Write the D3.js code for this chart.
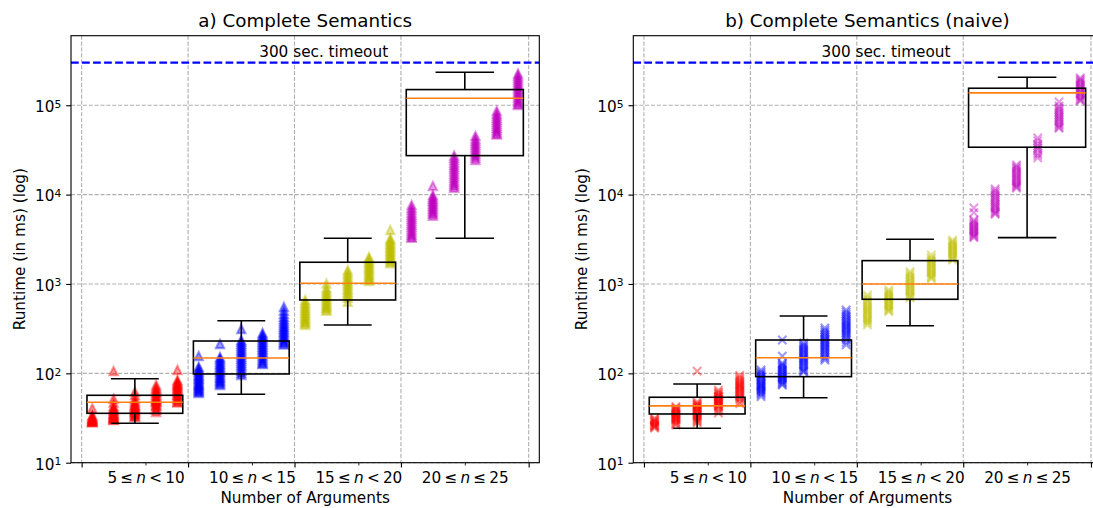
<!DOCTYPE html>
<html>
<head>
<meta charset="utf-8">
<script src="https://cdn.jsdelivr.net/npm/d3@7"></script>
<style>
  html, body { margin: 0; padding: 0; background: #fff; }
  svg { display: block; font-family: "DejaVu Sans", sans-serif; }
</style>
</head>
<body>
<svg id="chart" width="1093" height="508"></svg>
<script>
// ---- data -------------------------------------------------------------
// number of arguments, one scatter column each
const argCounts = [5, 6, 7, 8, 9, 10, 11, 12, 13, 14, 15, 16, 17, 18, 19, 20, 21, 22, 23, 24, 25];

// runtimes in ms for the complete semantics, one list per argument count
const runtimeComplete = [
  [40.5, 34, 33, 32, 31.5, 31, 30.5, 30, 29.5, 29, 28.8, 28.5, 28.3],
  [106, 52, 47, 43, 41, 40, 39, 38, 37, 36, 35, 34.5, 34, 33, 32.5, 32, 31.5, 31, 30.5, 30],
  [62, 57, 52, 49, 47, 45, 44, 43, 42, 41, 40, 39, 38, 37.5, 37, 36, 35, 34, 33, 32.5],
  [74, 70, 67, 64, 62, 60, 58, 56, 54, 52, 51, 50, 49, 48, 47, 45, 44, 43, 41, 39, 37],
  [109, 84, 81, 78, 76, 74, 72, 70, 68, 66, 64, 62, 60, 58, 57, 55, 53, 52, 50, 48, 47],
  [156, 118, 113, 108, 104, 100, 96, 93, 90, 87, 84, 81, 78, 76, 74, 72, 70, 68, 66, 64, 62, 60],
  [213, 152, 146, 140, 134, 128, 123, 118, 113, 108, 104, 100, 96, 92, 89, 86, 83, 80, 77, 74],
  [313, 236, 225, 214, 204, 194, 185, 176, 168, 160, 152, 145, 138, 131, 125, 119, 113, 107, 101, 96],
  [282, 270, 258, 247, 236, 226, 216, 207, 198, 190, 182, 174, 166, 158, 150, 143, 136, 130, 127],
  [553, 500, 460, 430, 405, 385, 365, 348, 332, 318, 305, 292, 280, 268, 257, 246, 236, 226, 217, 210],
  [662, 625, 595, 565, 540, 515, 495, 475, 455, 437, 420, 405, 390, 375, 362, 348],
  [1014, 900, 850, 800, 760, 725, 690, 660, 630, 605, 580, 560, 540, 520, 500],
  [1436, 1350, 1280, 1210, 1150, 1090, 1040, 990, 945, 900, 860, 820, 780, 750, 700, 630],
  [2005, 1920, 1840, 1760, 1690, 1620, 1550, 1490, 1430, 1370, 1310, 1260, 1210, 1160, 1120, 1080],
  [4020, 3230, 3100, 2980, 2860, 2750, 2640, 2540, 2440, 2350, 2260, 2170, 2090, 2010, 1930, 1850, 1770, 1700],
  [7650, 7100, 6700, 6300, 5950, 5650, 5350, 5080, 4820, 4580, 4350, 4130, 3920, 3720, 3540, 3380, 3280],
  [12500, 9860, 9400, 9000, 8600, 8250, 7900, 7550, 7250, 6950, 6650, 6350, 6100, 5800],
  [27400, 25800, 24300, 22900, 21600, 20400, 19300, 18200, 17200, 16300, 15400, 14600, 13800, 13100, 12500, 11900],
  [45400, 42500, 40000, 37800, 35800, 33900, 32100, 30400, 28800, 27300, 25900, 24400],
  [86300, 81000, 76500, 72500, 68800, 65300, 62000, 58900, 56000, 53300, 50700, 48300, 47100],
  [227000, 215000, 204000, 194000, 184000, 175000, 166000, 158000, 150000, 142000, 135000, 128000, 121000, 115000, 109000, 104000, 100700]
];

// runtimes in ms for the naive complete semantics
const runtimeNaive = [
  [31.5, 30.5, 30, 29, 28.5, 28, 27, 26.5, 26, 25.5, 25, 24.4],
  [42.5, 41, 40, 39, 38, 37, 36, 35, 34.5, 34, 33, 32.5, 32, 31, 30.5, 30, 29, 28, 27, 26.4],
  [106, 48, 46, 45, 44, 43, 42, 41, 40, 39, 38, 37, 36, 35, 34, 33, 32, 31, 30, 29, 28],
  [65, 62, 60, 58, 56, 55, 54, 52, 51, 50, 49, 48, 47, 46, 45, 44, 43, 42, 40, 38, 36],
  [95, 90, 86, 83, 80, 77, 75, 73, 71, 69, 67, 65, 63, 61, 59, 57, 55, 53, 51, 48, 46],
  [109, 104, 100, 96, 93, 90, 87, 84, 81, 78, 76, 74, 72, 70, 68, 66, 64, 62, 60, 58, 55],
  [236, 156, 130, 126, 122, 118, 114, 110, 107, 104, 100, 97, 94, 91, 89, 86, 84, 81, 79, 76, 74],
  [219, 210, 202, 195, 188, 181, 175, 168, 162, 156, 150, 145, 140, 135, 130, 125, 120, 115, 110, 106, 103.5],
  [322, 305, 290, 278, 266, 255, 245, 236, 227, 219, 211, 203, 196, 189, 182, 175, 168, 161, 154, 147, 141],
  [512, 485, 460, 440, 420, 400, 385, 370, 355, 342, 330, 318, 306, 295, 284, 273, 262, 250, 238, 222, 208],
  [753, 710, 670, 640, 610, 580, 555, 530, 510, 490, 470, 450, 430, 410, 395, 380, 365, 347],
  [857, 820, 790, 760, 730, 700, 675, 650, 625, 600, 580, 560, 540, 520, 505, 490],
  [1375, 1310, 1250, 1190, 1140, 1090, 1045, 1000, 960, 920, 885, 850, 815, 780, 750, 720, 700],
  [2112, 1980, 1900, 1820, 1750, 1680, 1610, 1550, 1490, 1430, 1370, 1320, 1270, 1220, 1180, 1140],
  [3100, 2980, 2870, 2770, 2670, 2570, 2480, 2390, 2300, 2220, 2140, 2060, 1990, 1920, 1850],
  [7090, 6300, 5200, 5000, 4800, 4620, 4450, 4300, 4150, 4000, 3870, 3740, 3620, 3500, 3400, 3300],
  [11560, 11000, 10500, 10000, 9500, 9100, 8700, 8300, 7900, 7600, 7300, 7000, 6700, 6400, 6200, 6030],
  [21500, 20600, 19800, 19000, 18200, 17400, 16700, 16000, 15400, 14800, 14200, 13600, 13100, 12600, 12200, 11860],
  [43000, 40000, 37000, 35000, 33000, 31500, 29000, 27500, 25700],
  [108900, 98000, 93000, 89000, 85000, 81000, 77000, 74000, 71000, 68000, 65000, 62000, 59500, 57000, 55300],
  [202000, 195000, 188000, 181000, 174000, 167000, 161000, 155000, 149000, 143000, 138000, 133000, 128000, 123000, 118000, 114000, 111700]
];

// argument-count groups: tick labels (text, italic?) and box positions
const groupLabels = [
  [["5", false], ["\u2264", false], ["n", true], ["<", false], ["10", false]],
  [["10", false], ["\u2264", false], ["n", true], ["<", false], ["15", false]],
  [["15", false], ["\u2264", false], ["n", true], ["<", false], ["20", false]],
  [["20", false], ["\u2264", false], ["n", true], ["\u2264", false], ["25", false]]
];
const groupLabelTicks = [7.5, 12.5, 17.5, 22.5];
const groupBoundaries = [4.5, 9.5, 14.5, 19.5, 25.5];
const groupColors = ["#ff0000", "#0000ff", "#bfbf00", "#bf00bf"];
const boxPositions = [7, 12, 17, 22.5];
const boxWidths = [4.5, 4.5, 4.5, 5.5];

// box statistics per group: whisker low, Q1, median, Q3, whisker high
const completeLow    = [27.6, 58.4, 348, 3245];
const completeQ1     = [35.7, 98.4, 662, 27300];
const completeMedian = [47.4, 148.6, 1018, 119700];
const completeQ3     = [56.8, 230, 1750, 149700];
const completeHigh   = [87.1, 388, 3245, 233900];

const naiveLow    = [24.3, 53.3, 341, 3297];
const naiveQ1     = [35.1, 91.8, 674, 33900];
const naiveMedian = [43.2, 149.6, 1000, 137500];
const naiveQ3     = [54, 236, 1824, 155000];
const naiveHigh   = [76, 438, 3162, 205500];

const yTickValues = [10, 100, 1000, 10000, 100000];
const timeoutMs = 300000;

// ---- layout -----------------------------------------------------------
const svg = d3.select("#chart");
svg.append("rect").attr("width", 1093).attr("height", 508).attr("fill", "#fff");

const PT = 100 / 72;               // px per point
const FS = 11 * PT;                // base font size
const panelTop = 35.7, panelH = 427, panelW = 468.3;
const groupOf = n => n < 10 ? 0 : n < 15 ? 1 : n < 20 ? 2 : 3;

function drawPanel(cfg) {
  const left = cfg.left;
  const x = d3.scaleLinear().domain([4, 26]).range([left, left + panelW]);
  const y = d3.scaleLog().domain([10, 6e5]).range([panelTop + panelH, panelTop]);
  const bottom = panelTop + panelH;
  const g = svg.append("g");

  // grid
  const grid = g.append("g").attr("stroke", "#b0b0b0").attr("stroke-width", 0.8 * PT)
    .attr("stroke-dasharray", `${3.7 * 0.8 * PT},${1.6 * 0.8 * PT}`);
  grid.selectAll("line.h").data(yTickValues).join("line").attr("class", "h")
    .attr("x1", left).attr("x2", left + panelW)
    .attr("y1", d => y(d)).attr("y2", d => y(d));
  grid.selectAll("line.v").data(groupBoundaries).join("line").attr("class", "v")
    .attr("x1", d => x(d)).attr("x2", d => x(d))
    .attr("y1", panelTop).attr("y2", bottom);

  // scatter points
  const h = 3 * PT;
  const tri = `M0,${-h}L${h},${h}L${-h},${h}Z`;
  const cross = `M${-h},${-h}L${h},${h}M${-h},${h}L${h},${-h}`;
  const pts = [];
  argCounts.forEach((n, i) => cfg.series[i].forEach(v => pts.push({ n, v })));
  g.append("g").selectAll("path").data(pts).join("path")
    .attr("transform", d => `translate(${x(d.n)},${y(d.v)})`)
    .attr("d", cfg.marker === "tri" ? tri : cross)
    .attr("fill", d => cfg.marker === "tri" ? groupColors[groupOf(d.n)] : "none")
    .attr("fill-opacity", 0.4)
    .attr("stroke", d => groupColors[groupOf(d.n)])
    .attr("stroke-opacity", 0.4)
    .attr("stroke-width", 1.5 * PT);

  // box plots
  const bx = g.append("g");
  boxPositions.forEach((p, i) => {
    const w = boxWidths[i];
    const bg = bx.append("g").attr("stroke", "#000").attr("stroke-width", 1.6).attr("fill", "none");
    bg.append("line").attr("x1", x(p)).attr("x2", x(p)).attr("y1", y(cfg.q1[i])).attr("y2", y(cfg.low[i]));
    bg.append("line").attr("x1", x(p)).attr("x2", x(p)).attr("y1", y(cfg.q3[i])).attr("y2", y(cfg.high[i]));
    bg.append("line").attr("x1", x(p - w / 4)).attr("x2", x(p + w / 4)).attr("y1", y(cfg.low[i])).attr("y2", y(cfg.low[i]));
    bg.append("line").attr("x1", x(p - w / 4)).attr("x2", x(p + w / 4)).attr("y1", y(cfg.high[i])).attr("y2", y(cfg.high[i]));
    bg.append("rect").attr("x", x(p - w / 2)).attr("width", x(p + w / 2) - x(p - w / 2))
      .attr("y", y(cfg.q3[i])).attr("height", y(cfg.q1[i]) - y(cfg.q3[i]));
    bx.append("line").attr("stroke", "#ff7f0e").attr("stroke-width", 1.6)
      .attr("x1", x(p - w / 2)).attr("x2", x(p + w / 2))
      .attr("y1", y(cfg.median[i])).attr("y2", y(cfg.median[i]));
  });

  // timeout line and its label
  g.append("line").attr("x1", left).attr("x2", left + panelW)
    .attr("y1", y(timeoutMs)).attr("y2", y(timeoutMs))
    .attr("stroke", "#0000ff").attr("stroke-width", 1.5 * PT)
    .attr("stroke-dasharray", `${3.7 * 1.5 * PT},${1.6 * 1.5 * PT}`);
  g.append("text").attr("x", x(15.87)).attr("y", y(timeoutMs) - 5.4)
    .attr("text-anchor", "middle").attr("font-size", FS).attr("fill", "#000")
    .text("300 sec. timeout");

  // y axis
  const yAx = g.append("g").attr("transform", `translate(${left},0)`)
    .call(d3.axisLeft(y).tickValues(yTickValues).tickSize(3.5 * PT).tickPadding(3.5 * PT).tickFormat(""));
  yAx.select(".domain").remove();
  yAx.selectAll(".tick line").attr("stroke", "#000").attr("stroke-width", 0.8 * PT);
  yAx.selectAll(".tick text").each(function (d) {
    const t = d3.select(this).attr("dy", null).attr("y", 6.3)
      .attr("font-size", FS).attr("font-family", "DejaVu Sans").attr("fill", "#000");
    t.append("tspan").text("10");
    t.append("tspan").attr("font-size", FS * 0.7).attr("dy", -4.4).text(Math.round(Math.log10(d)));
  });

  // x axis: group boundaries (unlabelled) and group labels
  const xMaj = g.append("g").attr("transform", `translate(0,${bottom})`)
    .call(d3.axisBottom(x).tickValues(groupBoundaries).tickSize(3.5 * PT).tickFormat(""));
  xMaj.select(".domain").remove();
  xMaj.selectAll(".tick line").attr("stroke", "#000").attr("stroke-width", 0.8 * PT);
  xMaj.selectAll(".tick text").remove();

  const xMin = g.append("g").attr("transform", `translate(0,${bottom})`)
    .call(d3.axisBottom(x).tickValues(groupLabelTicks).tickSize(2 * PT).tickFormat(""));
  xMin.select(".domain").remove();
  xMin.selectAll(".tick line").attr("stroke", "#000").attr("stroke-width", 0.6 * PT);
  xMin.selectAll(".tick text").each(function (d, i) {
    const t = d3.select(this).attr("dy", null).attr("y", 20.6)
      .attr("font-size", FS).attr("font-family", "DejaVu Sans").attr("fill", "#000");
    groupLabels[i].forEach(([s, it], k) => {
      const sp = t.append("tspan").text(s);
      if (k > 0) sp.attr("dx", 3.2);
      if (it) sp.attr("font-style", "italic");
    });
  });

  // spines
  g.append("rect").attr("x", left).attr("y", panelTop).attr("width", panelW).attr("height", panelH)
    .attr("fill", "none").attr("stroke", "#000").attr("stroke-width", 0.8 * PT);

  // titles and axis labels
  const cx = left + panelW / 2;
  g.append("text").attr("x", cx).attr("y", 26.7).attr("text-anchor", "middle")
    .attr("font-size", FS * 1.2).attr("fill", "#000").text(cfg.title);
  g.append("text").attr("x", cx).attr("y", 503).attr("text-anchor", "middle")
    .attr("font-size", FS).attr("fill", "#000").text("Number of Arguments");
  g.append("text").attr("transform", `translate(${left - 46},${panelTop + panelH / 2}) rotate(-90)`)
    .attr("text-anchor", "middle").attr("font-size", FS).attr("fill", "#000")
    .text("Runtime (in ms) (log)");
}

drawPanel({
  left: 71, title: "a) Complete Semantics", marker: "tri", series: runtimeComplete,
  low: completeLow, q1: completeQ1, median: completeMedian, q3: completeQ3, high: completeHigh
});
drawPanel({
  left: 633.3, title: "b) Complete Semantics (naive)", marker: "cross", series: runtimeNaive,
  low: naiveLow, q1: naiveQ1, median: naiveMedian, q3: naiveQ3, high: naiveHigh
});
</script>
</body>
</html>
